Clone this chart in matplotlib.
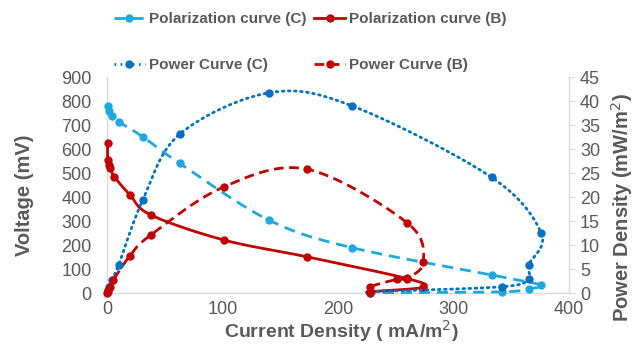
import numpy as np
import matplotlib
matplotlib.use("Agg")
import matplotlib.pyplot as plt
from matplotlib.lines import Line2D

plt.rcParams['font.family'] = ['Liberation Sans', 'DejaVu Sans']

# ---- data ----
I_polC = [0.5, 2, 4, 10, 31, 63, 140, 212, 333, 376, 365, 342, 228]
V_polC = [778, 757, 738, 714, 651, 540, 304, 189, 75, 33, 18, 5, 1]

I_powC = [0.5, 2, 4, 10, 31, 63, 140, 212, 333, 376, 365, 365, 342, 228]
P_powC = [0.3, 1.2, 2.7, 5.8, 19.4, 33.1, 41.7, 39.0, 24.1, 12.4, 5.8, 3.0, 1.3, 0.3]

I_polB = [0.5, 0.5, 1.5, 3, 6.3, 20, 38, 101, 173, 260, 274, 228, 228]
V_polB = [624, 554, 535, 520, 485, 408, 325, 221, 151, 60, 24, 6, 1]

I_powB = [0.2, 1, 2.6, 5.5, 20, 38, 101, 173, 260, 274, 260, 251, 228, 228]
P_powB = [0.1, 0.6, 1.3, 2.7, 7.8, 12.1, 22.1, 25.8, 14.6, 6.5, 3.1, 2.85, 1.3, 0.3]

x_ticks = [0, 100, 200, 300, 400]
v_ticks = list(range(0, 901, 100))
p_ticks = list(range(0, 46, 5))

labels = ["Polarization curve (C)", "Power Curve (C)",
          "Polarization curve (B)", "Power Curve (B)"]

c_light = "#1FA8E0"
c_dark = "#0070C0"
c_red = "#C00000"
grey = "#595959"
spine_c = "#D9D9D9"


def smooth(x, y, sx, sy, n=24):
    P = np.column_stack([np.asarray(x, float) * sx, np.asarray(y, float) * sy])
    out = []
    m = len(P)
    t = np.linspace(0, 1, n)[:, None]
    for i in range(m - 1):
        p0 = P[i - 1] if i > 0 else P[i]
        p1 = P[i]
        p2 = P[i + 1]
        p3 = P[i + 2] if i + 2 < m else P[i + 1]
        b1 = p1 + (p2 - p0) / 6.0
        b2 = p2 - (p3 - p1) / 6.0
        seg = (1 - t) ** 3 * p1 + 3 * (1 - t) ** 2 * t * b1 + 3 * (1 - t) * t ** 2 * b2 + t ** 3 * p2
        out.append(seg if i == 0 else seg[1:])
    S = np.vstack(out)
    return S[:, 0] / sx, S[:, 1] / sy


fig = plt.figure(figsize=(6.35, 3.44), dpi=100)
ax = fig.add_axes([107 / 635, 1 - 293 / 344, 462 / 635, 216 / 344])
ax2 = ax.twinx()

sx = 462 / 400.0
sy1 = 216 / 900.0
sy2 = 216 / 45.0
lw = 2.0
ms = 5

# Polarization C
xs, ys = smooth(I_polC, V_polC, sx, sy1)
ax.plot(xs, ys, color=c_light, lw=lw, ls=(0, (4, 2.5)), clip_on=False, zorder=3)
ax.plot(I_polC, V_polC, 'o', color=c_light, ms=ms, clip_on=False, zorder=4)
# Polarization B
xs, ys = smooth(I_polB, V_polB, sx, sy1)
ax.plot(xs, ys, color=c_red, lw=lw, ls='-', clip_on=False, zorder=3)
ax.plot(I_polB, V_polB, 'o', color=c_red, ms=ms, clip_on=False, zorder=4)
# Power C
xs, ys = smooth(I_powC, P_powC, sx, sy2)
ax2.plot(xs, ys, color=c_dark, lw=lw, ls=(0, (0.6, 1.6)), dash_capstyle='round',
         clip_on=False, zorder=3)
ax2.plot(I_powC, P_powC, 'o', color=c_dark, ms=ms, clip_on=False, zorder=4)
# Power B
xs, ys = smooth(I_powB, P_powB, sx, sy2)
ax2.plot(xs, ys, color=c_red, lw=lw, ls=(0, (3.5, 2)), clip_on=False, zorder=3)
ax2.plot(I_powB, P_powB, 'o', color=c_red, ms=ms, clip_on=False, zorder=4)

ax.set_xlim(0, 400)
ax.set_ylim(0, 900)
ax2.set_ylim(0, 45)
ax.set_xticks(x_ticks)
ax.set_yticks(v_ticks)
ax2.set_yticks(p_ticks)

for a in (ax, ax2):
    for s in a.spines.values():
        s.set_color(spine_c)
        s.set_linewidth(1.0)
    a.spines['top'].set_visible(False)
ax.spines['right'].set_visible(False)
ax2.spines['left'].set_visible(False)
ax2.spines['bottom'].set_visible(False)

ax.tick_params(axis='both', labelsize=13, labelcolor=grey, length=0)
ax.tick_params(axis='y', pad=11)
ax.tick_params(axis='x', pad=6)
ax2.tick_params(axis='y', labelsize=13, labelcolor=grey, color=spine_c, length=4, pad=4)

fig.text(25 / 635, 1 - 195 / 344, "Voltage (mV)", rotation=90, ha='center', va='center',
         fontsize=14.5, fontweight='bold', color=grey)
fig.text(341 / 635, 1 - 331 / 344, "Current Density ( mA/m$^{2}$)", ha='center', va='center',
         fontsize=14, fontweight='bold', color=grey)
fig.text(622 / 635, 1 - 208 / 344, "Power Density (mW/m$^{2}$)", rotation=90, ha='center',
         va='center', fontsize=14.5, fontweight='bold', color=grey)

handles = [
    Line2D([], [], color=c_light, lw=lw, ls=(0, (4, 2.5)), marker='o', ms=ms),
    Line2D([], [], color=c_dark, lw=lw, ls=(0, (0.6, 1.6)), marker='o', ms=ms),
    Line2D([], [], color=c_red, lw=lw, ls='-', marker='o', ms=ms),
    Line2D([], [], color=c_red, lw=lw, ls=(0, (3.5, 2)), marker='o', ms=ms),
]
fig.legend(handles, labels, ncol=2, loc='upper left',
           bbox_to_anchor=(114 / 635, 1 - 12 / 344), frameon=False,
           prop={'size': 11, 'weight': 'bold'}, labelcolor=grey,
           handlelength=2.0, handletextpad=0.3, columnspacing=0.5,
           labelspacing=2.1, borderpad=0, borderaxespad=0)

fig.savefig("out.png", dpi=100)
